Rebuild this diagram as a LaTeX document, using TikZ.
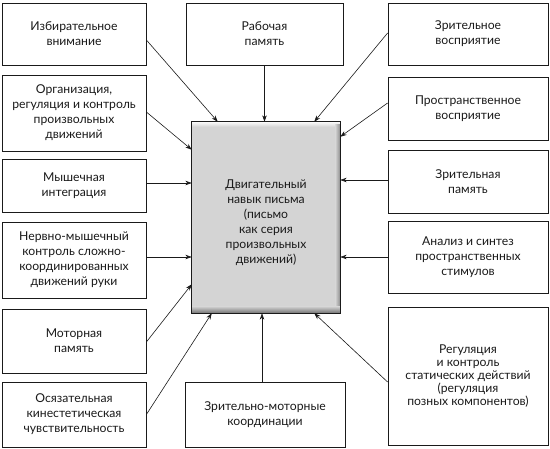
\documentclass[tikz,border=0pt]{standalone}
\usepackage{fontspec}
\setmainfont{Lato}
\usetikzlibrary{arrows.meta,calc}
\definecolor{ink}{HTML}{1A1A1A}
\definecolor{cfill}{HTML}{D4D4D4}
\begin{document}
\begin{tikzpicture}[x=1pt,y=-1pt,
  box/.style={draw=ink,line width=0.8pt,fill=white,align=center,
    font=\fontsize{12.2}{15}\selectfont,text=ink,inner sep=0pt},
  arr/.style={-{Stealth[length=6.5pt,width=4.5pt]},line width=0.6pt,draw=ink}]
\useasboundingbox (0,0) rectangle (550,449);
% central box
\node[minimum width=148,minimum height=191,fill=cfill,inner sep=0pt] (c) at (266,217.5) {};
\shade[top color=white!90!cfill,bottom color=cfill] (c.north west) rectangle ($(c.north east)+(0,5)$);
\shade[left color=cfill,right color=black!45] ($(c.north east)+(-5,3)$) rectangle (c.south east);
\shade[top color=cfill,bottom color=black!55] ($(c.south west)+(0,-7)$) rectangle (c.south east);
\draw[draw=ink,line width=0.8pt] (c.north west) rectangle (c.south east);
\node[align=center,font=\fontsize{12.2}{15}\selectfont,text=ink] (ct) at (266,223)
  {Двигательный\\навык письма\\(письмо\\как серия\\произвольных\\движений)};
% boxes
\node[box,minimum width=144,minimum height=62] (izb) at (74,34) {Избирательное\\внимание};
\node[box,minimum width=157,minimum height=62] (rab) at (264.5,34) {Рабочая\\память};
\node[box,minimum width=160,minimum height=62] (zrv) at (468,34) {Зрительное\\восприятие};
\node[box,minimum width=144,minimum height=76] (org) at (74,113) {Организация,\\регуляция и контроль\\произвольных\\движений};
\node[box,minimum width=160,minimum height=63] (prv) at (468,108.5) {Пространственное\\восприятие};
\node[box,minimum width=144,minimum height=53] (mysh) at (74,185.5) {Мышечная\\интеграция};
\node[box,minimum width=160,minimum height=63] (zrp) at (468,181.5) {Зрительная\\память};
\node[box,minimum width=144,minimum height=76] (nerv) at (74,260) {Нервно-мышечный\\контроль сложно-\\координированных\\движений руки};
\node[box,minimum width=160,minimum height=72] (anal) at (468,257) {Анализ и синтез\\пространственных\\стимулов};
\node[box,minimum width=144,minimum height=64] (mot) at (74,341) {Моторная\\память};
\node[box,minimum width=160,minimum height=138,font=\fontsize{12.2}{13}\selectfont] (reg) at (468,376) {Регуляция\\и контроль\\статических действий\\(регуляция\\позных компонентов)};
\node[box,minimum width=144,minimum height=65] (osy) at (74,414.5) {Осязательная\\кинестетическая\\чувствительность};
\node[box,minimum width=160,minimum height=65] (zrm) at (265,414.5) {Зрительно-моторные\\координации};
% arrows
\draw[arr] ($(izb.east)+(0,6)$) -- ($(c.north west)+(26,0)$);
\draw[arr] (rab.south) -- (rab.south |- c.north);
\draw[arr] ($(org.east)+(0,-1)$) -- ($(c.north west)+(0,28)$);
\draw[arr] ($(zrv.west)+(0,-1)$) -- ($(c.north east)+(-26,0)$);
\draw[arr] ($(prv.west)+(0,-5.5)$) -- ($(c.north east)+(0,15)$);
\draw[arr] ($(mysh.east)+(0,-2.5)$) coordinate (m1) -- (m1 -| c.west);
\draw[arr] ($(nerv.east)+(0,-3)$) coordinate (m2) -- (m2 -| c.west);
\draw[arr] ($(zrp.west)+(0,-1.5)$) coordinate (m3) -- (m3 -| c.east);
\draw[arr] (anal.west) -- (anal.west -| c.east);
\draw[arr] ($(mot.east)+(0,1)$) -- ($(c.south west)+(0,-29)$);
\draw[arr] (osy.east) -- ($(c.south west)+(20,0)$);
\draw[arr] ($(zrm.north)+(-3,0)$) coordinate (m4) -- (m4 |- c.south);
\draw[arr] ($(reg.west)+(0,6)$) -- ($(c.south east)+(-26,0)$);
\end{tikzpicture}
\end{document}
